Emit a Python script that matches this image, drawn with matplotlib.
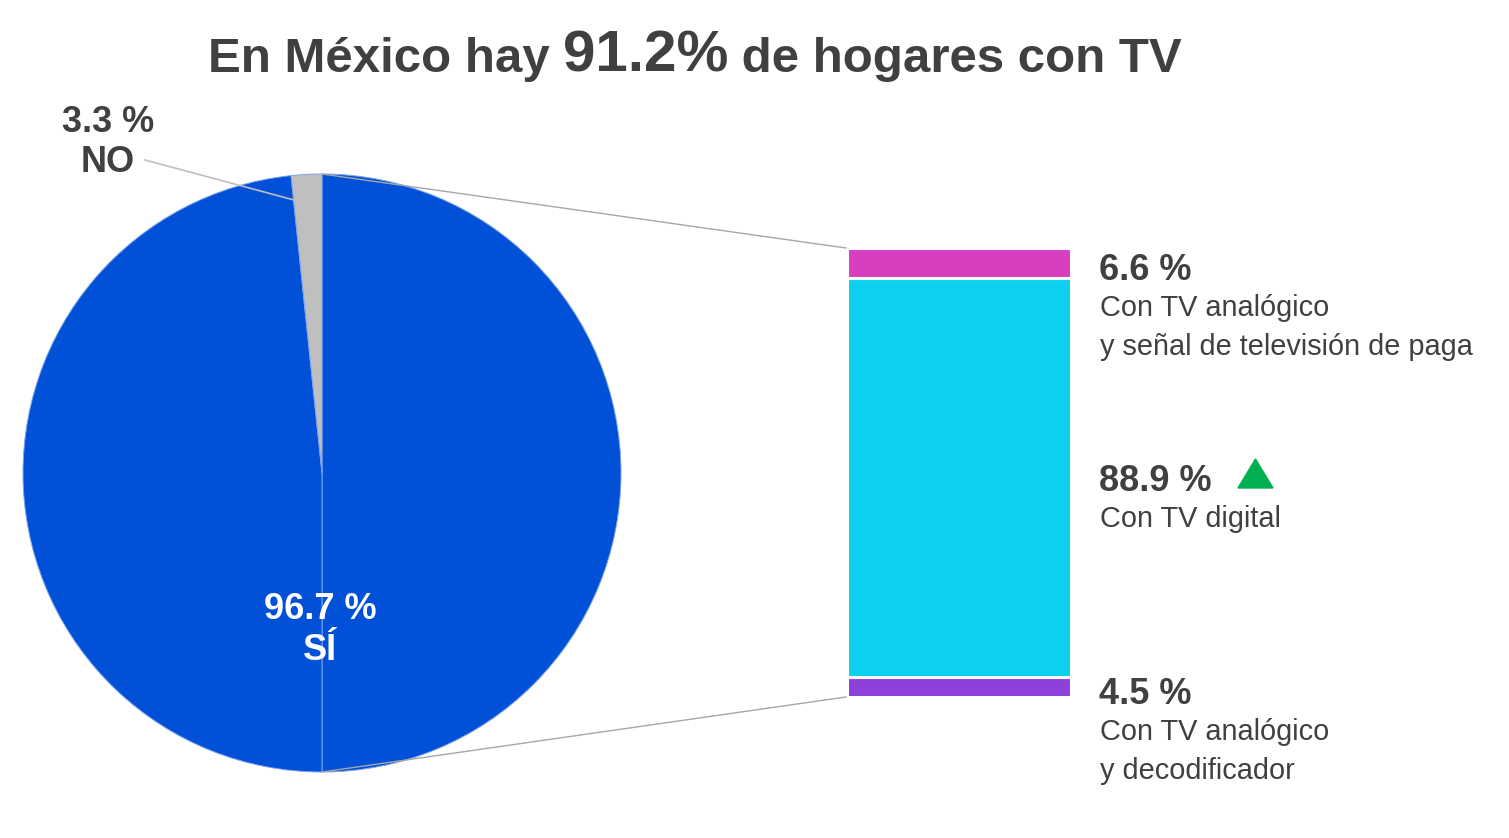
import matplotlib
matplotlib.use("Agg")
import matplotlib.pyplot as plt
from matplotlib.patches import Polygon

plt.rcParams["font.family"] = ["Liberation Sans", "DejaVu Sans"]

# datos
titulo_a = "En México hay "
titulo_num = "91.2%"
titulo_b = " de hogares con TV"

# pastel: mitad derecha = hogares con TV (100), izquierda = SÍ, gris = NO
pie_vals = [100, 96.7, 3.3]
pie_cols = ["#0050d8", "#0050d8", "#bfbfbf"]
si_pct, no_pct = 96.7, 3.3

# barra (de abajo hacia arriba)
bar_vals = [4.5, 88.9, 6.6]
bar_cols = ["#8e41d8", "#0dd0ee", "#d63fbf"]
bar_titles = ["4.5 %", "88.9 %", "6.6 %"]
bar_desc = ["Con TV analógico\ny decodificador", "Con TV digital",
            "Con TV analógico\ny señal de televisión de paga"]

W, H = 1509, 838
gris_txt = "#404040"
fig = plt.figure(figsize=(W / 100, H / 100), dpi=100)

# pastel
cx, cy, r = 322, 473, 299
pax = fig.add_axes([(cx - r) / W, (H - cy - r) / H, 2 * r / W, 2 * r / H])
pax.pie(pie_vals, colors=pie_cols, startangle=90, counterclock=False,
        wedgeprops=dict(edgecolor="#7fa3ea", linewidth=0.7))
pax.set_xlim(-1, 1)
pax.set_ylim(-1, 1)
pax.axis("off")

# barra apilada
bx0, bx1, by0, by1 = 847, 1071, 248, 697
bax = fig.add_axes([bx0 / W, (H - by1) / H, (bx1 - bx0) / W, (by1 - by0) / H])
bottom = 0
for v, c in zip(bar_vals, bar_cols):
    bax.bar(0, v, bottom=bottom, width=1, color=c, edgecolor="white", linewidth=2.2)
    bottom += v
bax.set_xlim(-0.5, 0.5)
bax.set_ylim(0, 100)
bax.axis("off")

# capa de anotaciones en pixeles
ax = fig.add_axes([0, 0, 1, 1])
ax.set_xlim(0, W)
ax.set_ylim(H, 0)
ax.axis("off")
ax.patch.set_alpha(0)

# lineas de conexion
ax.plot([cx, bx0 - 1], [cy - r, by0], color="#a6a6a6", lw=1.0)
ax.plot([cx, bx0 - 1], [cy + r, by1], color="#a6a6a6", lw=1.0)
ax.plot([145, 294], [160, 200], color="#bfbfbf", lw=1.2)

# etiquetas pastel
ax.text(320, 609, f"{si_pct} %", color="white", fontsize=26, fontweight="bold",
        ha="center", va="center")
ax.text(320, 650, "SÍ", color="white", fontsize=26, fontweight="bold",
        ha="center", va="center")
ax.text(108, 122, f"{no_pct} %", color=gris_txt, fontsize=26, fontweight="bold",
        ha="center", va="center")
ax.text(108, 163, "NO", color=gris_txt, fontsize=26, fontweight="bold",
        ha="center", va="center")

# etiquetas barra
pos_y = [694, 481, 270]
for t, d, y in zip(bar_titles, bar_desc, pos_y):
    ax.text(1099, y, t, color=gris_txt, fontsize=26, fontweight="bold",
            ha="left", va="center")
    ax.text(1100, y + 24, d, color=gris_txt, fontsize=20.8, ha="left", va="top",
            linespacing=1.5)

# triangulo verde
ax.add_patch(Polygon([[1238, 488], [1273, 488], [1255.5, 459]], closed=True,
                     color="#00b050"))

# titulo con tamaños mezclados
renderer = fig.canvas.get_renderer()
partes = [(titulo_a, 35.5), (titulo_num, 42), (titulo_b, 35.5)]
textos = []
for s, fs in partes:
    textos.append(ax.text(0, 72, s, fontsize=fs, fontweight="bold", color=gris_txt,
                          ha="left", va="baseline"))
anchos = [t.get_window_extent(renderer).width for t in textos]
x = 695 - sum(anchos) / 2
for t, w in zip(textos, anchos):
    t.set_x(x)
    x += w

fig.savefig("out.png", dpi=100)
